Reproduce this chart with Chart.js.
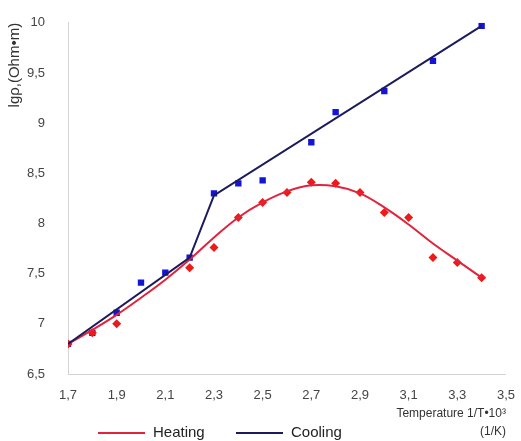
<!DOCTYPE html>
<html>
<head>
<meta charset="utf-8">
<script src="https://cdn.jsdelivr.net/npm/chart.js@4/dist/chart.umd.min.js"></script>
<style>
  html, body { margin: 0; padding: 0; background: #fff; }
  #wrap { width: 521px; height: 441px; }
</style>
</head>
<body>
<div id="wrap"><canvas id="resChart"></canvas></div>
<script>
// measured points
const heatingX = [1.7, 1.8, 1.9, 2.2, 2.3, 2.4, 2.5, 2.6, 2.7, 2.8, 2.9, 3.0, 3.1, 3.2, 3.3, 3.4];
const heatingY = [6.8, 6.91, 7.0, 7.56, 7.76, 8.06, 8.21, 8.31, 8.41, 8.4, 8.31, 8.11, 8.06, 7.66, 7.61, 7.46];
const coolingX = [1.7, 1.8, 1.9, 2.0, 2.1, 2.2, 2.3, 2.4, 2.5, 2.7, 2.8, 3.0, 3.2, 3.4];
const coolingY = [6.8, 6.91, 7.11, 7.41, 7.51, 7.66, 8.3, 8.4, 8.43, 8.81, 9.11, 9.32, 9.62, 9.97];

// fitted curves
const heatingFitX = [1.7, 1.8, 1.9, 2.0, 2.1, 2.2, 2.3, 2.4, 2.5, 2.6, 2.7, 2.8, 2.9, 3.0, 3.1, 3.2, 3.3, 3.4];
const heatingFitY = [6.8, 6.94, 7.09, 7.26, 7.44, 7.64, 7.86, 8.06, 8.21, 8.32, 8.38, 8.37, 8.3, 8.16, 7.99, 7.8, 7.63, 7.46];
const coolingFitX = [1.7, 2.2, 2.3, 3.4];
const coolingFitY = [6.8, 7.66, 8.28, 9.97];

const seriesNames = ['Heating', 'Cooling'];
const xTicks = { min: 1.7, max: 3.5, step: 0.2 };
const yTicks = { min: 6.5, max: 10, step: 0.5 };

const toPts = (xs, ys) => xs.map((x, i) => ({ x: x, y: ys[i] }));
const comma = v => (Math.abs(v - Math.round(v)) < 1e-9 ? String(Math.round(v)) : v.toFixed(1).replace('.', ','));

const RED = '#e2233c';
const NAVY = '#1c1c5c';
const FONT = '"Liberation Sans", Arial, sans-serif';

// legend drawn under the plot, left of the axis title
const bottomLegend = {
  id: 'bottomLegend',
  afterDraw(chart) {
    const ctx = chart.ctx;
    const items = [
      { text: seriesNames[0], color: RED, x: 98 },
      { text: seriesNames[1], color: NAVY, x: 236 }
    ];
    const y = 433;
    ctx.save();
    ctx.font = '15px ' + FONT;
    ctx.textBaseline = 'middle';
    items.forEach(it => {
      ctx.strokeStyle = it.color;
      ctx.lineWidth = 2;
      ctx.beginPath();
      ctx.moveTo(it.x, y);
      ctx.lineTo(it.x + 47, y);
      ctx.stroke();
      ctx.fillStyle = '#222';
      ctx.fillText(it.text, it.x + 55, y);
    });
    ctx.restore();
  }
};

new Chart(document.getElementById('resChart'), {
  type: 'scatter',
  data: {
    datasets: [
      {
        label: seriesNames[0],
        data: toPts(heatingFitX, heatingFitY),
        showLine: true,
        borderColor: RED,
        borderWidth: 2,
        tension: 0.4,
        pointRadius: 0,
        order: 2
      },
      {
        label: seriesNames[1],
        data: toPts(coolingFitX, coolingFitY),
        showLine: true,
        borderColor: NAVY,
        borderWidth: 2,
        tension: 0,
        pointRadius: 0,
        order: 1
      },
      {
        label: 'Heating points',
        data: toPts(heatingX, heatingY),
        pointStyle: 'rectRot',
        pointRadius: 4.5,
        backgroundColor: '#ee1a1a',
        borderColor: '#ee1a1a',
        borderWidth: 0,
        order: 3
      },
      {
        label: 'Cooling points',
        data: toPts(coolingX, coolingY),
        pointStyle: 'rect',
        pointRadius: 4.5,
        backgroundColor: '#1414d8',
        borderColor: '#1414d8',
        borderWidth: 0,
        order: 4
      }
    ]
  },
  options: {
    responsive: true,
    maintainAspectRatio: false,
    animation: false,
    layout: { padding: { top: 18, right: 15, bottom: 0, left: 0 } },
    plugins: {
      legend: { display: false },
      tooltip: { enabled: false }
    },
    scales: {
      x: {
        type: 'linear',
        min: xTicks.min,
        max: xTicks.max,
        grid: { display: false },
        border: { display: true, color: '#d4d4d4', width: 1 },
        afterFit: s => { s.height = 67; },
        ticks: {
          stepSize: xTicks.step,
          padding: 6,
          color: '#444',
          font: { family: FONT, size: 13 },
          callback: v => comma(v)
        },
        title: {
          display: true,
          align: 'end',
          text: ['Temperature 1/T•10³', '(1/K)'],
          color: '#333',
          font: { family: FONT, size: 12, lineHeight: 1.5 },
          padding: { top: 1, bottom: 0 }
        }
      },
      y: {
        min: yTicks.min,
        max: yTicks.max,
        grid: { display: false },
        border: { display: true, color: '#d4d4d4', width: 1 },
        afterFit: s => { s.width = 68; },
        ticks: {
          stepSize: yTicks.step,
          padding: 15,
          color: '#444',
          font: { family: FONT, size: 13 },
          callback: v => comma(v)
        },
        title: {
          display: true,
          align: 'end',
          text: 'lgρ,(Ohm•m)',
          color: '#333',
          font: { family: FONT, size: 15 },
          padding: { top: 6, bottom: 0 }
        }
      }
    }
  },
  plugins: [bottomLegend]
});
</script>
</body>
</html>
